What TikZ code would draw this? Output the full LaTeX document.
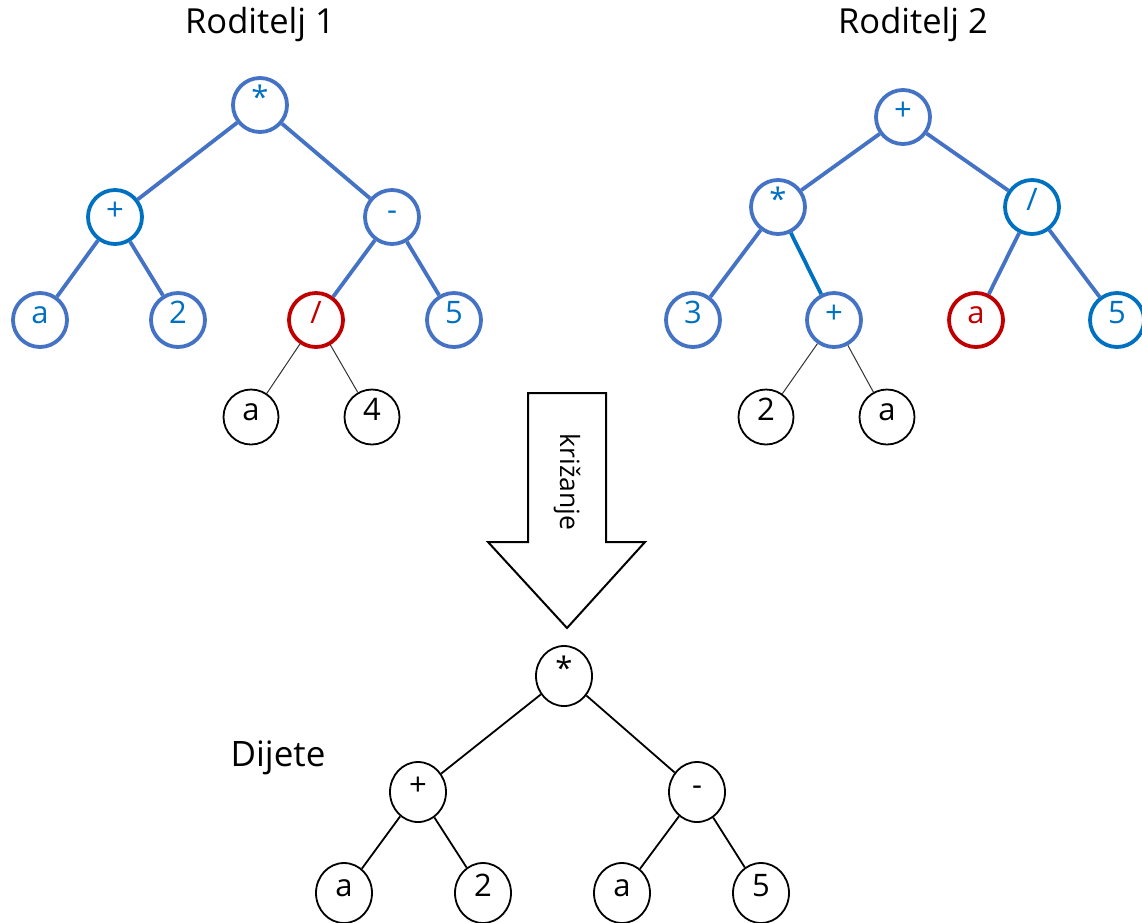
\documentclass[tikz,border=0pt]{standalone}
\usepackage{fontspec}
\setmainfont{Open Sans}
\usetikzlibrary{shapes.geometric}
\definecolor{obl}{HTML}{4472C4}
\definecolor{obd}{HTML}{0070C0}
\definecolor{ored}{HTML}{C00000}
\begin{document}
\begin{tikzpicture}[x=1pt,y=-1pt,
  lbl/.style={inner sep=0pt,text height=0.72em,text depth=0pt,font=\fontsize{31}{36}\selectfont},
  bn/.style={lbl,circle,draw=obl,line width=3.8pt,text=obd,fill=white,minimum size=54pt},
  bnd/.style={bn,draw=obd},
  rn/.style={bn,draw=ored,text=ored},
  kn/.style={lbl,circle,draw=black,line width=1.8pt,fill=white,minimum size=55pt},
  cn/.style={lbl,ellipse,draw=black,line width=1.8pt,fill=white,minimum width=56pt,minimum height=60pt},
  be/.style={draw=obl,line width=3.8pt},
  bed/.style={draw=obd,line width=3.8pt},
  te/.style={draw=black!80,line width=1pt},
  ce/.style={draw=black,line width=1.8pt},
  title/.style={inner sep=0pt,font=\fontsize{34.5}{40}\selectfont}
]
\useasboundingbox (0,0) rectangle (1142,922);

% Titles
\node[title] (t1) at (260,25) {Roditelj 1};
\node[title] (t2) at (913,25) {Roditelj 2};
\node[title,font=\fontsize{35}{40}\selectfont] (t3) at (278,758) {Dijete};

% Parent 1
\node[bn]  (p1r)  at (260,105) {*};
\node[bnd] (p1l)  at (115,217) {+};
\node[bn]  (p1m)  at (392,217) {-};
\node[bn]  (p1a)  at (40,320)  {a};
\node[bn]  (p12)  at (178,320) {2};
\node[rn]  (p1d)  at (316,320) {/};
\node[bn]  (p15)  at (454,320) {5};
\node[kn]  (p1x)  at (251,417) {a};
\node[kn]  (p14)  at (372,417) {4};
\draw[be] (p1r) -- (p1l);
\draw[be] (p1r) -- (p1m);
\draw[be] (p1l) -- (p1a);
\draw[be] (p1l) -- (p12);
\draw[be] (p1m) -- (p1d);
\draw[be] (p1m) -- (p15);
\draw[te] (p1d) -- (p1x);
\draw[te] (p1d) -- (p14);

% Parent 2
\node[bn]  (p2r)  at (903,117) {+};
\node[bn]  (p2l)  at (778,207) {*};
\node[bnd] (p2m)  at (1032,207) {/};
\node[bn]  (p23)  at (693,320) {3};
\node[bn]  (p2p)  at (834,320) {+};
\node[rn]  (p2a)  at (976,320) {a};
\node[bnd] (p25)  at (1117,320) {5};
\node[kn]  (p22)  at (766,417) {2};
\node[kn]  (p2x)  at (887,417) {a};
\draw[be]  (p2r) -- (p2l);
\draw[be]  (p2r) -- (p2m);
\draw[be]  (p2l) -- (p23);
\draw[bed] (p2l) -- (p2p);
\draw[be]  (p2m) -- (p2a);
\draw[be]  (p2m) -- (p25);
\draw[te]  (p2p) -- (p22);
\draw[te]  (p2p) -- (p2x);

% Crossover arrow
\draw[line width=2pt,line join=miter,fill=white]
  (528,393) -- (606,393) -- (606,542) -- (645,542) -- (567,628)
  -- (488,542) -- (528,542) -- cycle;
\node[inner sep=0pt,rotate=-90,font=\fontsize{26.5}{32}\selectfont] (kr) at (567,482) {križanje};

% Child
\node[cn] (cr) at (564,676) {*};
\node[cn] (cl) at (418,792) {+};
\node[cn] (cm) at (697,792) {-};
\node[cn] (ca) at (344,893) {a};
\node[cn] (c2) at (483,893) {2};
\node[cn] (cx) at (622,893) {a};
\node[cn] (c5) at (761,893) {5};
\draw[ce] (cr) -- (cl);
\draw[ce] (cr) -- (cm);
\draw[ce] (cl) -- (ca);
\draw[ce] (cl) -- (c2);
\draw[ce] (cm) -- (cx);
\draw[ce] (cm) -- (c5);
\end{tikzpicture}
\end{document}
